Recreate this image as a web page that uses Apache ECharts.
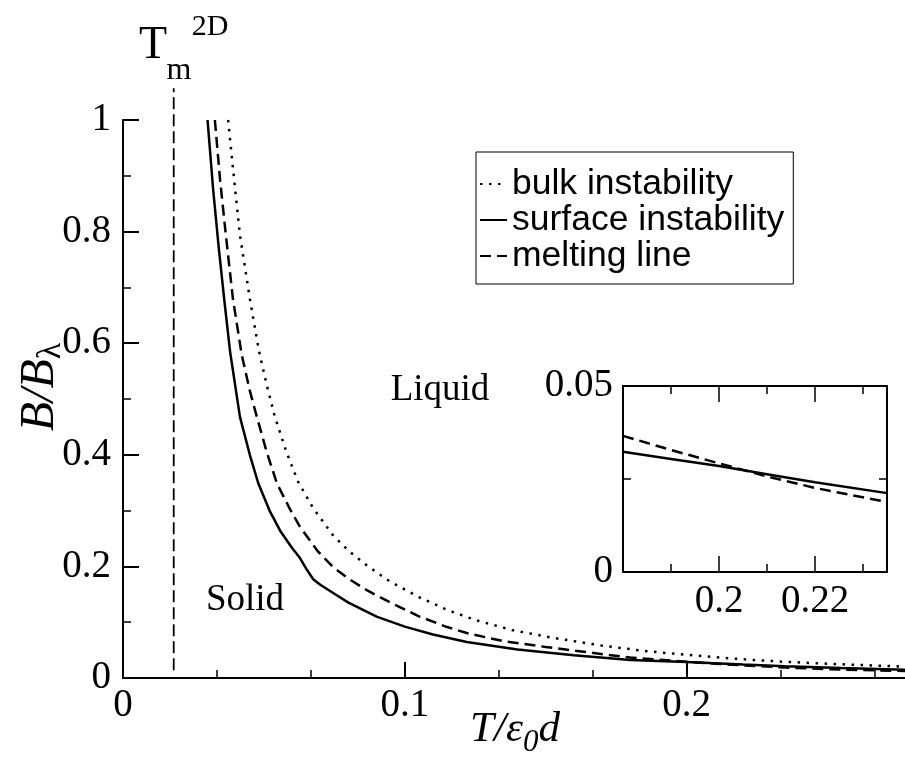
<!DOCTYPE html>
<html>
<head>
<meta charset="utf-8">
<script src="https://cdn.jsdelivr.net/npm/echarts@6/dist/echarts.min.js"></script>
<style>
html,body{margin:0;padding:0;background:#fff;}
#chart{width:905px;height:761px;}
</style>
</head>
<body>
<div id="chart"></div>
<script>
// ---- data ----
var bulkT = [0.0373, 0.0395, 0.0415, 0.045, 0.0483, 0.051, 0.0539, 0.058, 0.0621, 0.0674, 0.0745, 0.080, 0.087, 0.095, 0.105, 0.115, 0.125, 0.138, 0.152, 0.170, 0.185, 0.200, 0.220, 0.235, 0.255, 0.280];
var bulkB = [1.0, 0.89, 0.794, 0.68, 0.585, 0.525, 0.468, 0.405, 0.352, 0.305, 0.256, 0.228, 0.200, 0.172, 0.145, 0.122, 0.104, 0.086, 0.0725, 0.058, 0.0485, 0.0415, 0.0335, 0.029, 0.0245, 0.020];

var surfT = [0.030, 0.032, 0.034, 0.036, 0.038, 0.0415, 0.045, 0.048, 0.052, 0.056, 0.060, 0.0628, 0.065, 0.0675, 0.070, 0.075, 0.080, 0.090, 0.100, 0.110, 0.122, 0.140, 0.160, 0.180, 0.190, 0.200, 0.210, 0.220, 0.235, 0.255, 0.280];
var surfB = [1.0, 0.875, 0.77, 0.675, 0.585, 0.468, 0.40, 0.349, 0.30, 0.262, 0.233, 0.215, 0.196, 0.177, 0.167, 0.151, 0.135, 0.110, 0.092, 0.078, 0.0645, 0.051, 0.0408, 0.0323, 0.0304, 0.0285, 0.0263, 0.0241, 0.0212, 0.0178, 0.0145];

var meltT = [0.0326, 0.0345, 0.0365, 0.039, 0.0421, 0.045, 0.0475, 0.051, 0.0546, 0.059, 0.0628, 0.069, 0.0745, 0.080, 0.087, 0.095, 0.105, 0.115, 0.122, 0.135, 0.150, 0.165, 0.180, 0.190, 0.200, 0.210, 0.220, 0.235, 0.255, 0.280];
var meltB = [1.0, 0.89, 0.794, 0.68, 0.58, 0.515, 0.468, 0.405, 0.349, 0.305, 0.271, 0.228, 0.199, 0.178, 0.156, 0.135, 0.1105, 0.0913, 0.0806, 0.066, 0.0556, 0.046, 0.0366, 0.0328, 0.0292, 0.0257, 0.0226, 0.0188, 0.0150, 0.0123];

// vertical 2D melting temperature marker
var tmT = [0.018, 0.018];
var tmB = [0.014, 1.057];

// inset (zoom of the crossing region)
var insetT = [0.180, 0.190, 0.200, 0.210, 0.220, 0.235];
var insetSurf = [0.0323, 0.0304, 0.0285, 0.0263, 0.0241, 0.0212];
var insetMelt = [0.0366, 0.0328, 0.0292, 0.0257, 0.0226, 0.0188];

var mainXTicks = [0, 0.1, 0.2, 0.3];
var mainYTicks = [0, 0.2, 0.4, 0.6, 0.8, 1];
var insetXMajor = [0.2, 0.22];
var insetXMinor = [0.19, 0.21, 0.23];
var insetYTicks = [0, 0.05];

var seriesNames = ['bulk instability', 'surface instability', 'melting line'];

function zip(a, b) { return a.map(function (v, i) { return [v, b[i]]; }); }
function fmt(v) { return v === 0 ? '0' : String(parseFloat(v.toFixed(3))); }

var SERIF = '"Liberation Serif", "Times New Roman", serif';
var SANS = '"Liberation Sans", Arial, sans-serif';
var BLACK = '#000';

var chart = echarts.init(document.getElementById('chart'), null, {renderer: 'canvas'});

var labelStyle = {color: BLACK, fontFamily: SERIF, fontSize: 39};

var option = {
  animation: false,
  backgroundColor: '#fff',
  grid: [
    {left: 123, top: 120, width: 0.3 * 2818, bottom: 83, outerBoundsMode: 'none', containLabel: false},
    {left: 623, top: 386, width: 264, height: 186, outerBoundsMode: 'none', containLabel: false}
  ],
  legend: {
    data: seriesNames,
    orient: 'vertical',
    left: 476, top: 152,
    itemWidth: 27, itemHeight: 14, itemGap: 0,
    padding: [14, 9, 10, 3],
    borderColor: BLACK, borderWidth: 1, borderRadius: 0,
    selectedMode: false,
    itemStyle: {opacity: 0, borderWidth: 0},
    textStyle: {fontFamily: SANS, fontSize: 35.5, color: BLACK}
  },
  xAxis: [
    {
      gridIndex: 0, type: 'value', min: mainXTicks[0], max: mainXTicks[mainXTicks.length - 1], interval: 0.1,
      axisLine: {lineStyle: {color: BLACK, width: 2}},
      axisTick: {inside: true, length: 16, lineStyle: {color: BLACK, width: 2}},
      minorTick: {show: true, splitNumber: 3, length: 8, lineStyle: {color: BLACK, width: 1.5}},
      axisLabel: Object.assign({margin: 8, formatter: fmt}, labelStyle),
      splitLine: {show: false}
    },
    {
      gridIndex: 1, type: 'value', min: 0.18, max: 0.235, position: 'bottom',
      axisLine: {lineStyle: {color: BLACK, width: 2}},
      axisTick: {inside: true, length: 16, customValues: insetXMajor, lineStyle: {color: BLACK, width: 1.5}},
      axisLabel: Object.assign({margin: 10, customValues: insetXMajor, formatter: fmt}, labelStyle),
      splitLine: {show: false}
    },
    {
      gridIndex: 1, type: 'value', min: 0.18, max: 0.235, position: 'bottom',
      axisLine: {show: false},
      axisTick: {inside: true, length: 8, customValues: insetXMinor, lineStyle: {color: BLACK, width: 1.5}},
      axisLabel: {show: false},
      splitLine: {show: false}
    },
    {
      gridIndex: 1, type: 'value', min: 0.18, max: 0.235, position: 'top',
      axisLine: {lineStyle: {color: BLACK, width: 2}},
      axisTick: {inside: true, length: 16, customValues: insetXMajor, lineStyle: {color: BLACK, width: 1.5}},
      axisLabel: {show: false},
      splitLine: {show: false}
    },
    {
      gridIndex: 1, type: 'value', min: 0.18, max: 0.235, position: 'top',
      axisLine: {show: false},
      axisTick: {inside: true, length: 8, customValues: insetXMinor, lineStyle: {color: BLACK, width: 1.5}},
      axisLabel: {show: false},
      splitLine: {show: false}
    }
  ],
  yAxis: [
    {
      gridIndex: 0, type: 'value', min: mainYTicks[0], max: mainYTicks[mainYTicks.length - 1], interval: 0.2,
      axisLine: {show: true, lineStyle: {color: BLACK, width: 2}},
      axisTick: {show: true, inside: true, length: 16, lineStyle: {color: BLACK, width: 2}},
      minorTick: {show: true, splitNumber: 2, length: 8, lineStyle: {color: BLACK, width: 1.5}},
      axisLabel: Object.assign({margin: 12, formatter: fmt}, labelStyle),
      splitLine: {show: false}
    },
    {
      gridIndex: 1, type: 'value', min: insetYTicks[0], max: insetYTicks[1], interval: 0.05, position: 'left',
      axisLine: {show: true, lineStyle: {color: BLACK, width: 2}},
      axisTick: {show: true, inside: true, length: 16, lineStyle: {color: BLACK, width: 1.5}},
      minorTick: {show: true, splitNumber: 2, length: 8, lineStyle: {color: BLACK, width: 1.5}},
      axisLabel: Object.assign({margin: 10, formatter: fmt}, labelStyle),
      splitLine: {show: false}
    },
    {
      gridIndex: 1, type: 'value', min: insetYTicks[0], max: insetYTicks[1], interval: 0.05, position: 'right',
      axisLine: {show: true, lineStyle: {color: BLACK, width: 2}},
      axisTick: {show: true, inside: true, length: 16, lineStyle: {color: BLACK, width: 1.5}},
      minorTick: {show: true, splitNumber: 2, length: 8, lineStyle: {color: BLACK, width: 1.5}},
      axisLabel: {show: false},
      splitLine: {show: false}
    }
  ],
  series: [
    {
      name: seriesNames[0], type: 'line', xAxisIndex: 0, yAxisIndex: 0, symbol: 'none',
      data: zip(bulkT, bulkB), smooth: false,
      lineStyle: {color: BLACK, width: 2.5, type: [2.5, 6.5]}, itemStyle: {color: BLACK}
    },
    {
      name: seriesNames[1], type: 'line', xAxisIndex: 0, yAxisIndex: 0, symbol: 'none',
      data: zip(surfT, surfB),
      lineStyle: {color: BLACK, width: 2.5, type: 'solid'}, itemStyle: {color: BLACK}
    },
    {
      name: seriesNames[2], type: 'line', xAxisIndex: 0, yAxisIndex: 0, symbol: 'none',
      data: zip(meltT, meltB),
      lineStyle: {color: BLACK, width: 2.5, type: [11, 6]}, itemStyle: {color: BLACK}
    },
    {
      name: 'Tm2D', type: 'line', xAxisIndex: 0, yAxisIndex: 0, symbol: 'none', clip: false,
      data: zip(tmT, tmB),
      lineStyle: {color: BLACK, width: 1.8, type: [12, 5]}
    },
    {
      name: seriesNames[1], type: 'line', xAxisIndex: 1, yAxisIndex: 1, symbol: 'none',
      data: zip(insetT, insetSurf),
      lineStyle: {color: BLACK, width: 2.5, type: 'solid'}, itemStyle: {color: BLACK}
    },
    {
      name: seriesNames[2], type: 'line', xAxisIndex: 1, yAxisIndex: 1, symbol: 'none',
      data: zip(insetT, insetMelt),
      lineStyle: {color: BLACK, width: 2.5, type: [11, 6]}, itemStyle: {color: BLACK}
    }
  ],
  graphic: [
    {type: 'text', x: 153, y: 46, style: {text: 'T', fontFamily: SERIF, fontSize: 46, fill: BLACK, align: 'center', verticalAlign: 'middle'}},
    {type: 'text', x: 179, y: 71, style: {text: 'm', fontFamily: SERIF, fontSize: 32, fill: BLACK, align: 'center', verticalAlign: 'middle'}},
    {type: 'text', x: 210, y: 27, style: {text: '2D', fontFamily: SERIF, fontSize: 30, fill: BLACK, align: 'center', verticalAlign: 'middle'}},
    {type: 'text', x: 440, y: 390, style: {text: 'Liquid', fontFamily: SERIF, fontSize: 37, fill: BLACK, align: 'center', verticalAlign: 'middle'}},
    {type: 'text', x: 245, y: 600, style: {text: 'Solid', fontFamily: SERIF, fontSize: 37, fill: BLACK, align: 'center', verticalAlign: 'middle'}},
    {
      type: 'text', x: 515, y: 730,
      style: {
        text: '{i|T/ε}{s|0}{i|d}', align: 'center', verticalAlign: 'middle', fill: BLACK,
        rich: {
          i: {fontFamily: SERIF, fontStyle: 'italic', fontSize: 43, lineHeight: 56, verticalAlign: 'middle', fill: BLACK},
          s: {fontFamily: SERIF, fontStyle: 'italic', fontSize: 31, lineHeight: 30, verticalAlign: 'bottom', fill: BLACK}
        }
      }
    },
    {
      type: 'text', x: 40, y: 387, rotation: Math.PI / 2,
      style: {
        text: '{i|B/B}{s|λ}', align: 'center', verticalAlign: 'middle', fill: BLACK,
        rich: {
          i: {fontFamily: SERIF, fontStyle: 'italic', fontSize: 48, lineHeight: 56, verticalAlign: 'middle', fill: BLACK},
          s: {fontFamily: SERIF, fontSize: 34, lineHeight: 30, verticalAlign: 'bottom', fill: BLACK}
        }
      }
    }
  ]
};

chart.setOption(option);
</script>
</body>
</html>
